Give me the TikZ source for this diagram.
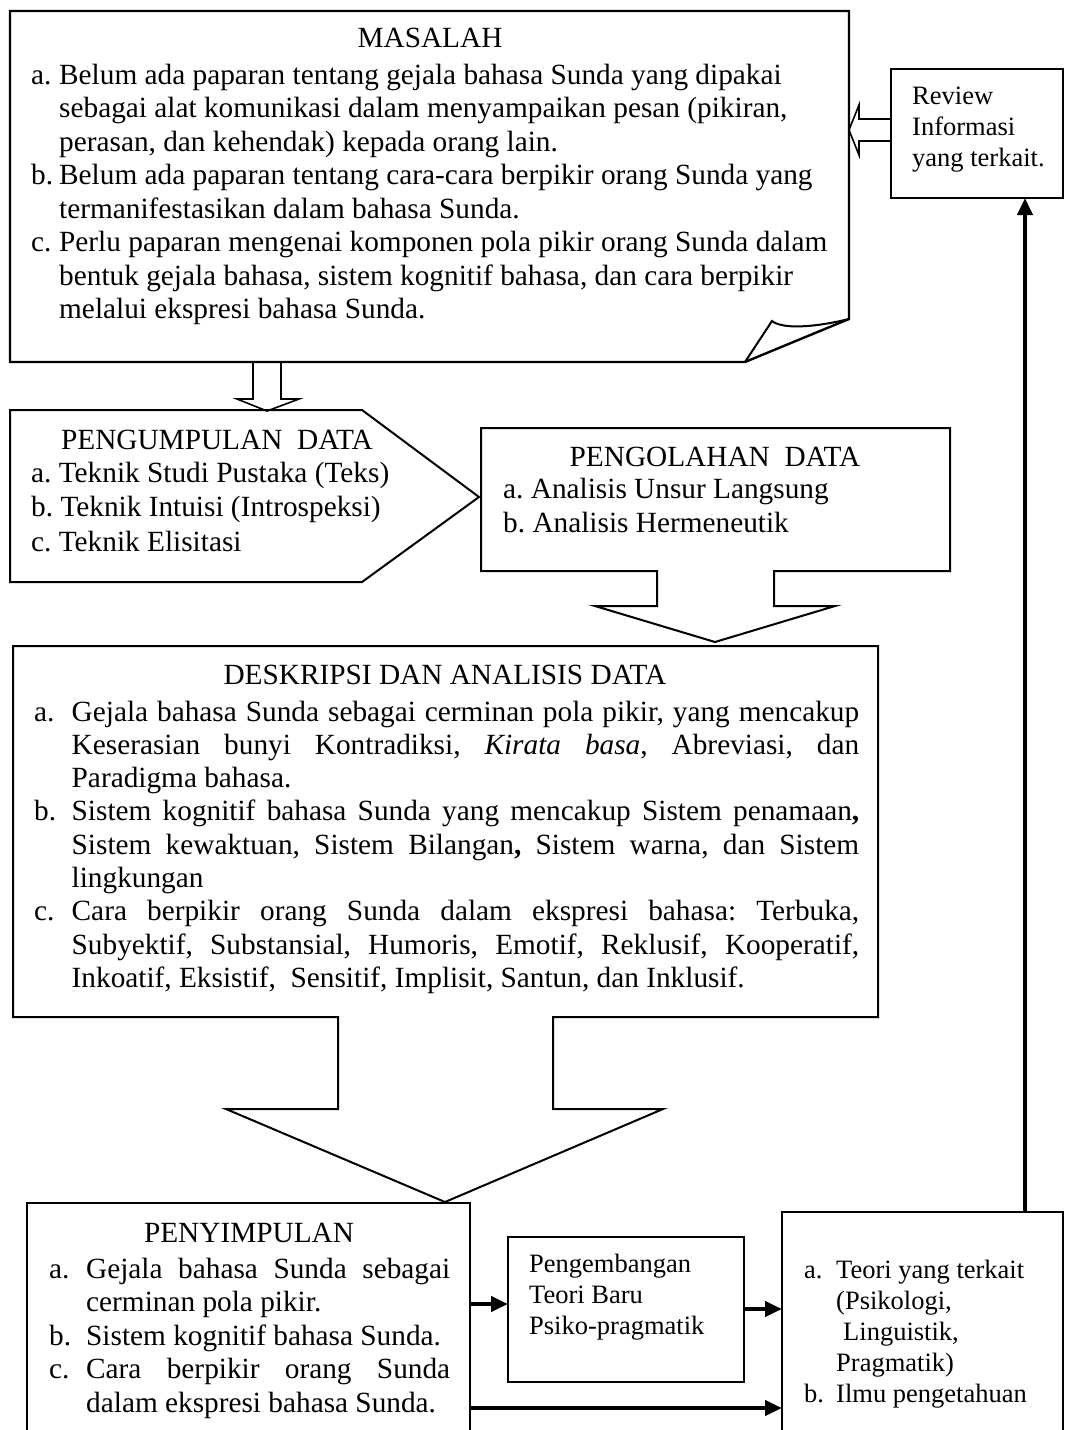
\documentclass[tikz,border=0pt]{standalone}
\usepackage{fontspec}
\setmainfont{Liberation Serif}
\usetikzlibrary{arrows.meta}
\newcommand{\lstitem}[2]{\hangindent=#1\hangafter=1\noindent\makebox[#1][l]{#2}\ignorespaces}
\newcommand{\nl}{\hfil\break}
\newcommand{\jl}{\break}
\begin{document}
\frenchspacing
\begin{tikzpicture}[x=1pt,y=-1pt,
  box/.style={draw=black, line width=2pt, line join=miter},
  hollow/.style={draw=black, line width=1.6pt, line join=miter},
  big/.style={font=\fontsize{29.3}{33.5}\selectfont, inner sep=0pt},
  body/.style={big, anchor=base west, align=justify},
  ttl/.style={big, anchor=base},
  small/.style={font=\fontsize{26.5}{31}\selectfont, inner sep=0pt, anchor=base west, align=justify},
  thickarrow/.style={line width=4pt, -{Triangle[length=17pt,width=15pt]}},
]
\useasboundingbox (0,0) rectangle (1066,1430);
\clip (0,0) rectangle (1066,1430);
\fill[white] (0,0) rectangle (1066,1430);

% ---------- MASALAH ----------
\draw[box, line width=2.4pt] (10,11) -- (849,11) -- (849,319) -- (745,362) -- (10,362) -- cycle;
\draw[box] (745,362) -- (772,321) .. controls (782,329) and (812,328) .. (849,319);
\node[ttl] (masT) at (430,47) {MASALAH};
\node[body, text width=812pt] (masL) at (31,84) {%
\lstitem{28pt}{a.}Belum ada paparan tentang gejala bahasa Sunda yang dipakai\nl
sebagai alat komunikasi dalam menyampaikan pesan (pikiran,\nl
perasan, dan kehendak) kepada orang lain.\par
\lstitem{28pt}{b.}Belum ada paparan tentang cara-cara berpikir orang Sunda yang\nl
termanifestasikan dalam bahasa Sunda.\par
\lstitem{28pt}{c.}Perlu paparan mengenai komponen pola pikir orang Sunda dalam\nl
bentuk gejala bahasa, sistem kognitif bahasa, dan cara berpikir\nl
melalui ekspresi bahasa Sunda.\par};
\coordinate (masR) at (849,130);
\coordinate (masB) at (267,362);

% hollow arrow MASALAH -> PENGUMPULAN
\draw[hollow] (253,362) -- (253,399) -- (237,399) -- (267,411) -- (299,399) -- (281,399) -- (281,362);

% ---------- Review ----------
\draw[box] (891,69) rectangle (1063,198);
\node[small, text width=150pt] (rev) at (912,104) {Review\nl Informasi\nl yang terkait.\par};
\coordinate (revB) at (1025,198);
% hollow arrow Review -> MASALAH
\draw[hollow] (891,119) -- (859,119) -- (859,105) -- (849,130) -- (859,155) -- (859,141) -- (891,141);

% ---------- PENGUMPULAN ----------
\draw[box] (10,410) -- (362,410) -- (479,497) -- (362,582) -- (10,582) -- cycle;
\node[ttl] (pgT) at (217,449) {PENGUMPULAN\ \ DATA};
\node[body, text width=400pt, font=\fontsize{29.3}{34.5}\selectfont] (pgL) at (31,482) {%
a. Teknik Studi Pustaka (Teks)\nl
b. Teknik Intuisi (Introspeksi)\nl
c. Teknik Elisitasi\par};

% ---------- PENGOLAHAN ----------
\draw[box] (481,428) -- (950,428) -- (950,571) -- (774,571) -- (774,606) -- (835,606)
  -- (715,642) -- (595,606) -- (657,606) -- (657,571) -- (481,571) -- cycle;
\node[ttl] (poT) at (715,466) {PENGOLAHAN\ \ DATA};
\node[body, text width=420pt, font=\fontsize{29.3}{34.5}\selectfont] (poL) at (503,498) {%
a. Analisis Unsur Langsung\nl
b. Analisis Hermeneutik\par};

% ---------- DESKRIPSI ----------
\draw[box] (13,646) -- (878,646) -- (878,1017) -- (553,1017) -- (553,1109) -- (663,1109)
  -- (445,1202) -- (226,1109) -- (338,1109) -- (338,1017) -- (13,1017) -- cycle;
\node[ttl] (deT) at (445,684) {DESKRIPSI DAN ANALISIS DATA};
\node[body, text width=825pt, font=\fontsize{29.3}{33.3}\selectfont] (deL) at (34,721) {%
\lstitem{37.5pt}{a.}Gejala bahasa Sunda sebagai cerminan pola pikir, yang mencakup\jl
Keserasian bunyi Kontradiksi, \textit{Kirata basa}, Abreviasi, dan\jl
Paradigma bahasa.\par
\lstitem{37.5pt}{b.}Sistem kognitif bahasa Sunda yang mencakup Sistem penamaan\textbf{,}\jl
Sistem kewaktuan, Sistem Bilangan\textbf{,} Sistem warna, dan Sistem\jl
lingkungan\par
\lstitem{37.5pt}{c.}Cara berpikir orang Sunda dalam ekspresi bahasa: Terbuka,\jl
Subyektif, Substansial, Humoris, Emotif, Reklusif, Kooperatif,\jl
Inkoatif, Eksistif,\ \ Sensitif, Implisit, Santun, dan Inklusif.\par};

% ---------- PENYIMPULAN ----------
\draw[box] (27,1203) rectangle (470,1460);
\node[ttl] (peT) at (249,1242) {PENYIMPULAN};
\node[body, text width=401pt] (peL) at (49,1278) {%
\lstitem{37pt}{a.}Gejala bahasa Sunda sebagai\jl
cerminan pola pikir.\par
\lstitem{37pt}{b.}Sistem kognitif bahasa Sunda.\par
\lstitem{37pt}{c.}Cara berpikir orang Sunda\jl
dalam ekspresi bahasa Sunda.\par};
\coordinate (peR1) at (470,1304);
\coordinate (peR2) at (470,1408);

% ---------- Pengembangan ----------
\draw[box] (508,1237) rectangle (744,1382);
\node[small, text width=210pt] (pb) at (529,1272) {Pengembangan\nl Teori Baru\nl Psiko-pragmatik\par};
\coordinate (pbL) at (508,1304);
\coordinate (pbR) at (744,1309);

% ---------- Teori ----------
\draw[box] (782,1212) rectangle (1063,1460);
\node[small, text width=270pt] (te) at (804,1278) {%
\lstitem{32pt}{a.}Teori yang terkait\nl
(Psikologi,\nl
\hspace*{7pt}Linguistik,\nl
Pragmatik)\par
\lstitem{32pt}{b.}Ilmu pengetahuan\par};
\coordinate (teL1) at (782,1309);
\coordinate (teL2) at (782,1408);
\coordinate (teT) at (1025,1212);

% ---------- connectors ----------
\draw[thickarrow] (peR1) -- (pbL);
\draw[thickarrow] (pbR) -- (teL1);
\draw[thickarrow] (peR2) -- (teL2);
\draw[thickarrow] (teT) -- (revB);
\end{tikzpicture}
\end{document}
